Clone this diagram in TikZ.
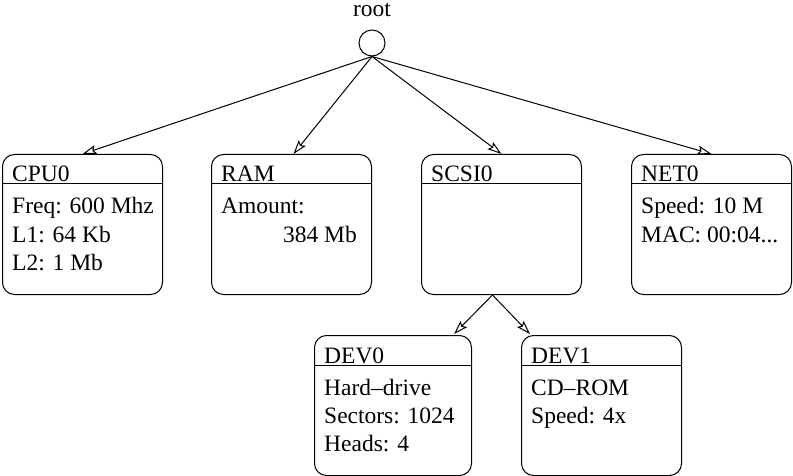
\documentclass[tikz,border=0pt]{standalone}
\usepackage{fontspec}
\setmainfont{Liberation Serif}
\usetikzlibrary{arrows.meta,calc}
\begin{document}
\begin{tikzpicture}[x=1pt,y=-1pt,
  box/.style={draw,line width=1pt,rounded corners=12pt,minimum width=160pt,minimum height=140pt,anchor=north west,inner sep=0pt},
  txt/.style={anchor=base west,inner sep=0pt,font=\fontsize{23.5}{28}\selectfont},
  conn/.style={draw,line width=1pt,-{Stealth[open,length=14pt,width=9pt,inset=2.5pt]}},
  hdr/.style={draw,line width=1pt}]
\useasboundingbox (0,0) rectangle (793,476);
\node[draw,circle,line width=1pt,minimum size=26pt,inner sep=0pt] (root) at (372,43) {};
\node[txt,anchor=base,text height=14pt,text depth=0pt] (rootlbl) at (372,17) {root};
\node[box] (cpu) at (2,154) {};
\node[box] (ram) at (211,154) {};
\node[box] (scsi) at (421,154) {};
\node[box] (net) at (631,154) {};
\node[box,minimum width=157pt] (dev0) at (314,335) {};
\node[box] (dev1) at (521,335) {};
\foreach \b in {cpu,ram,scsi,net,dev0,dev1}{
  \draw[hdr] ($(\b.north west)+(0,30)$) -- ($(\b.north east)+(0,30)$);
}
% texts
\node[txt] (t1) at ($(cpu.north west)+(10,28)$) {CPU0};
\node[txt] (t2) at ($(cpu.north west)+(10,60)$) {Freq: 600 Mhz};
\node[txt] (t3) at ($(cpu.north west)+(10,88)$) {L1: 64 Kb};
\node[txt] (t4) at ($(cpu.north west)+(10,116)$) {L2: 1 Mb};
\node[txt] (t5) at ($(ram.north west)+(10,28)$) {RAM};
\node[txt] (t6) at ($(ram.north west)+(10,60)$) {Amount:};
\node[txt,anchor=base east] (t7) at ($(ram.north west)+(146,88)$) {384 Mb};
\node[txt] (t8) at ($(scsi.north west)+(10,28)$) {SCSI0};
\node[txt] (t9) at ($(net.north west)+(10,28)$) {NET0};
\node[txt] (t10) at ($(net.north west)+(10,60)$) {Speed: 10 M};
\node[txt] (t11) at ($(net.north west)+(10,88)$) {MAC: 00:04...};
\node[txt] (t12) at ($(dev0.north west)+(10,28)$) {DEV0};
\node[txt] (t13) at ($(dev0.north west)+(10,60)$) {Hard–drive};
\node[txt] (t14) at ($(dev0.north west)+(10,88)$) {Sectors: 1024};
\node[txt] (t15) at ($(dev0.north west)+(10,116)$) {Heads: 4};
\node[txt] (t16) at ($(dev1.north west)+(10,28)$) {DEV1};
\node[txt] (t17) at ($(dev1.north west)+(10,60)$) {CD–ROM};
\node[txt] (t18) at ($(dev1.north west)+(10,88)$) {Speed: 4x};
% connectors
\coordinate (rs) at (root.south);
\draw[conn] (rs) -- (cpu.north);
\draw[conn] (rs) -- ($(ram.north)+(2,0)$);
\draw[conn] (rs) -- (scsi.north);
\draw[conn] (rs) -- (net.north);
\coordinate (ss) at ($(scsi.south)+(-9,0)$);
\draw[conn] (ss) -- ($(dev0.north east)+(-18,-1)$);
\draw[conn] (ss) -- ($(dev1.north west)+(9,-1)$);
\end{tikzpicture}
\end{document}
